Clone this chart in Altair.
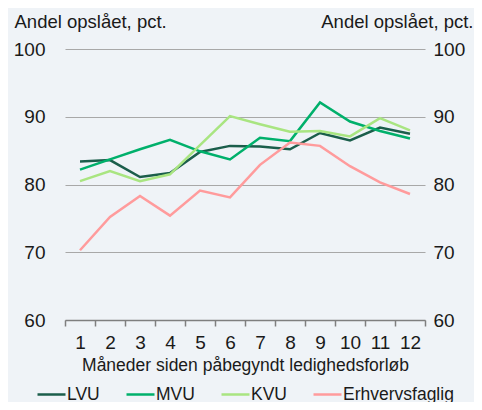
import altair as alt
import pandas as pd

months = list(range(1, 13))
series_names = ["LVU", "MVU", "KVU", "Erhvervsfaglig"]
lvu = [83.4, 83.6, 81.1, 81.7, 84.8, 85.7, 85.6, 85.2, 87.6, 86.5, 88.4, 87.5]
mvu = [82.2, 83.7, 85.2, 86.6, 84.9, 83.7, 86.9, 86.4, 92.1, 89.3, 87.9, 86.8]
kvu = [80.5, 82.0, 80.5, 81.5, 85.8, 90.1, 88.9, 87.8, 87.9, 87.1, 89.8, 88.0]
erhverv = [70.3, 75.2, 78.3, 75.4, 79.1, 78.1, 82.9, 86.2, 85.7, 82.7, 80.3, 78.6]
colors = ["#1b5e4b", "#00b06b", "#a9e581", "#ff9b9c"]

rows = []
for name, vals in zip(series_names, [lvu, mvu, kvu, erhverv]):
    for m, v in zip(months, vals):
        rows.append({"Måned": m, "Serie": name, "Værdi": v})
df = pd.DataFrame(rows)

FONT = "Liberation Sans"
TXT = "#1a1a1a"
ytitle = "Andel opslået, pct."

x_enc = alt.X(
    "Måned:O",
    scale=alt.Scale(type="band", paddingInner=0, paddingOuter=0),
    axis=alt.Axis(
        title="Måneder siden påbegyndt ledighedsforløb",
        labelAngle=0,
        tickBand="extent",
        domainColor="#7f7f7f",
        tickColor="#7f7f7f",
        domainWidth=1.5,
        tickWidth=1.5,
        tickSize=6,
        labelFontSize=19,
        labelPadding=7,
        titleFontSize=17.5,
        titleFontWeight="normal",
        titlePadding=4,
        grid=False,
    ),
)

y_scale = alt.Scale(domain=[60, 100], nice=False, zero=False)

color_enc = alt.Color(
    "Serie:N",
    scale=alt.Scale(domain=series_names, range=colors),
    legend=alt.Legend(
        title=None,
        orient="none",
        direction="horizontal",
        legendX=-29,
        legendY=330,
        symbolType="stroke",
        symbolSize=784,
        symbolStrokeWidth=2.5,
        labelFontSize=17.5,
        labelOffset=0,
        columnPadding=21,
        labelColor=TXT,
        labelFont=FONT,
    ),
)

left = alt.Chart(df).mark_line(strokeWidth=2.5).encode(
    x=x_enc,
    y=alt.Y(
        "Værdi:Q",
        scale=y_scale,
        axis=alt.Axis(
            orient="left",
            values=[60, 70, 80, 90, 100],
            title=ytitle,
            titleAngle=0,
            titleAlign="left",
            titleBaseline="alphabetic",
            titleX=-51,
            titleY=-22,
            titleFontSize=18.5,
            titleFontWeight="normal",
            labelFontSize=19,
            labelPadding=20,
            ticks=False,
            domain=False,
            grid=True,
            gridColor="#a8a8a8",
            gridWidth=1.2,
        ),
    ),
    color=color_enc,
    order=alt.Order("Måned:O"),
)

right = alt.Chart(df).mark_line(opacity=0).encode(
    x=alt.X("Måned:O", scale=alt.Scale(type="band", paddingInner=0, paddingOuter=0)),
    y=alt.Y(
        "Værdi:Q",
        scale=y_scale,
        axis=alt.Axis(
            orient="right",
            values=[60, 70, 80, 90, 100],
            title=ytitle,
            titleAngle=0,
            titleAlign="right",
            titleBaseline="alphabetic",
            titleX=48,
            titleY=-22,
            titleFontSize=18.5,
            titleFontWeight="normal",
            labelFontSize=19,
            labelPadding=8,
            ticks=False,
            domain=False,
            grid=False,
        ),
    ),
    detail="Serie:N",
)

chart = (
    alt.layer(left, right)
    .resolve_axis(y="independent")
    .resolve_scale(y="shared")
    .properties(
        width=360,
        height=271,
        background="#eff3f7",
        padding={"left": 57, "top": 41, "right": 49, "bottom": 82},
        autosize=alt.AutoSizeParams(type="none"),
    )
    .configure_view(stroke=None)
    .configure_axis(labelFont=FONT, titleFont=FONT, labelColor=TXT, titleColor=TXT)
    .configure_legend(labelFont=FONT)
)

chart.save("out.html", embed_options={"renderer": "svg", "actions": False})
